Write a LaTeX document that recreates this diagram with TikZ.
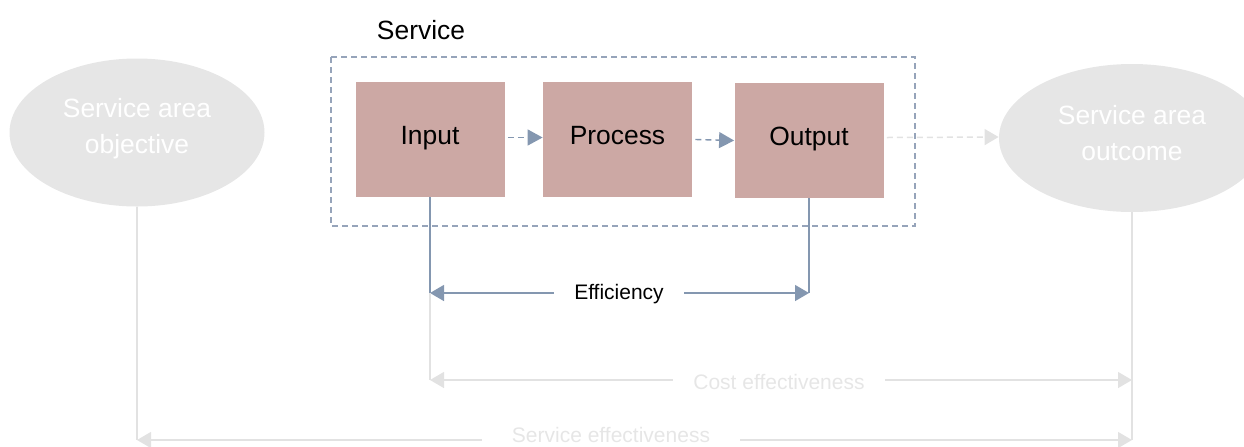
\documentclass[tikz,border=0pt]{standalone}
\usepackage{fontspec}
\setmainfont{Liberation Sans}
\usetikzlibrary{arrows.meta,positioning,shapes.geometric,calc}
\definecolor{boxfill}{RGB}{204,168,164}
\definecolor{linkblue}{RGB}{132,151,176}
\definecolor{framecol}{RGB}{150,164,186}
\definecolor{paleg}{RGB}{230,230,230}
\definecolor{lineg}{RGB}{226,226,226}
\tikzset{
    stage/.style={
        fill=boxfill,
        minimum width=74.5pt,
        minimum height=57.5pt,
        inner sep=0pt,
        text height=0.72em,
        text depth=0.21em,
        font=\fontsize{13.2}{16}\selectfont
    },
    goal/.style={
        ellipse,
        fill=paleg,
        text=white,
        inner sep=0pt,
        minimum height=74pt,
        align=center,
        font=\fontsize{13.2}{18}\selectfont
    },
    flow/.style={
        linkblue, dashed, dash pattern=on 3pt off 2pt, line width=0.7pt,
        -{Triangle[length=7.5pt,width=8pt]}
    },
    measure/.style={
        linkblue, line width=0.75pt,
        -{Triangle[length=7pt,width=8pt]}
    },
    faint/.style={
        lineg, line width=0.75pt,
        -{Triangle[length=7pt,width=8pt]}
    },
    tag/.style={inner ysep=0pt, inner xsep=10pt, font=\fontsize{10.5}{12}\selectfont}
}

\begin{document}
\begin{tikzpicture}[x={(0.5pt,0)}, y={(0,-0.5pt)}]
    \useasboundingbox (0,0) rectangle (1244,446);

    % Service boundary
    \draw[framecol, dashed, dash pattern=on 3pt off 2pt, line width=0.6pt] (331,57) rectangle (915,226);
    \node[font=\fontsize{13.2}{16}\selectfont] (svc) at (421,30) {Service};

    % Stages inside the service
    \node[stage] (in) at (430,139.5) {Input};
    \node[stage] (proc) at (617.5,139.5) {Process};
    \node[stage] (out) at (809,140.5) {Output};

    % Objective and outcome
    \node[goal, minimum width=127.5pt] (obj) at (137,132.5) {Service area\\objective\\[-11pt]};
    \node[goal, minimum width=133pt] (res) at (1132,138) {Service area\\outcome\\[-13pt]};

    % Chain of stages
    \draw[flow] (in.east) ++(3,-2) -- ($(proc.west)+(0,-2)$);
    \draw[flow] (proc.east) ++(3,0) -- (out.west);
    \draw[faint, dashed, dash pattern=on 3pt off 2pt] (out.east) ++(3,-3) -- ($(res.west)+(0,-1)$);

    % Labels of the three measures
    \node[tag] (eff) at (619,294) {Efficiency};
    \node[tag, text=paleg] (cost) at (779,382) {Cost effectiveness};
    \node[tag, text=paleg, inner xsep=15pt] (serv) at (611,435) {Service effectiveness};

    \coordinate (effL) at (in.south |- 0,293);
    \coordinate (effR) at (out.south |- 0,293);
    \coordinate (costL) at (in.south |- 0,380);
    \coordinate (costR) at (res.south |- 0,380);
    \coordinate (servL) at (obj.south |- 0,440);
    \coordinate (servR) at (res.south |- 0,440);

    % Efficiency: input to output
    \draw[linkblue, line width=0.75pt] (in.south) -- (effL);
    \draw[linkblue, line width=0.75pt] (out.south) -- (effR);
    \draw[measure] (eff.west |- effL) -- (effL);
    \draw[measure] (eff.east |- effR) -- (effR);

    % Cost effectiveness: input to outcome
    \draw[lineg, line width=0.75pt] (effL) -- (costL);
    \draw[lineg, line width=0.75pt] (res.south) -- (servR);
    \draw[faint] (cost.west |- costL) -- (costL);
    \draw[faint] (cost.east |- costR) -- (costR);

    % Service effectiveness: objective to outcome
    \draw[lineg, line width=0.75pt] (obj.south) -- (servL);
    \draw[faint] (serv.west |- servL) -- (servL);
    \draw[faint] (serv.east |- servR) -- (servR);
\end{tikzpicture}
\end{document}
